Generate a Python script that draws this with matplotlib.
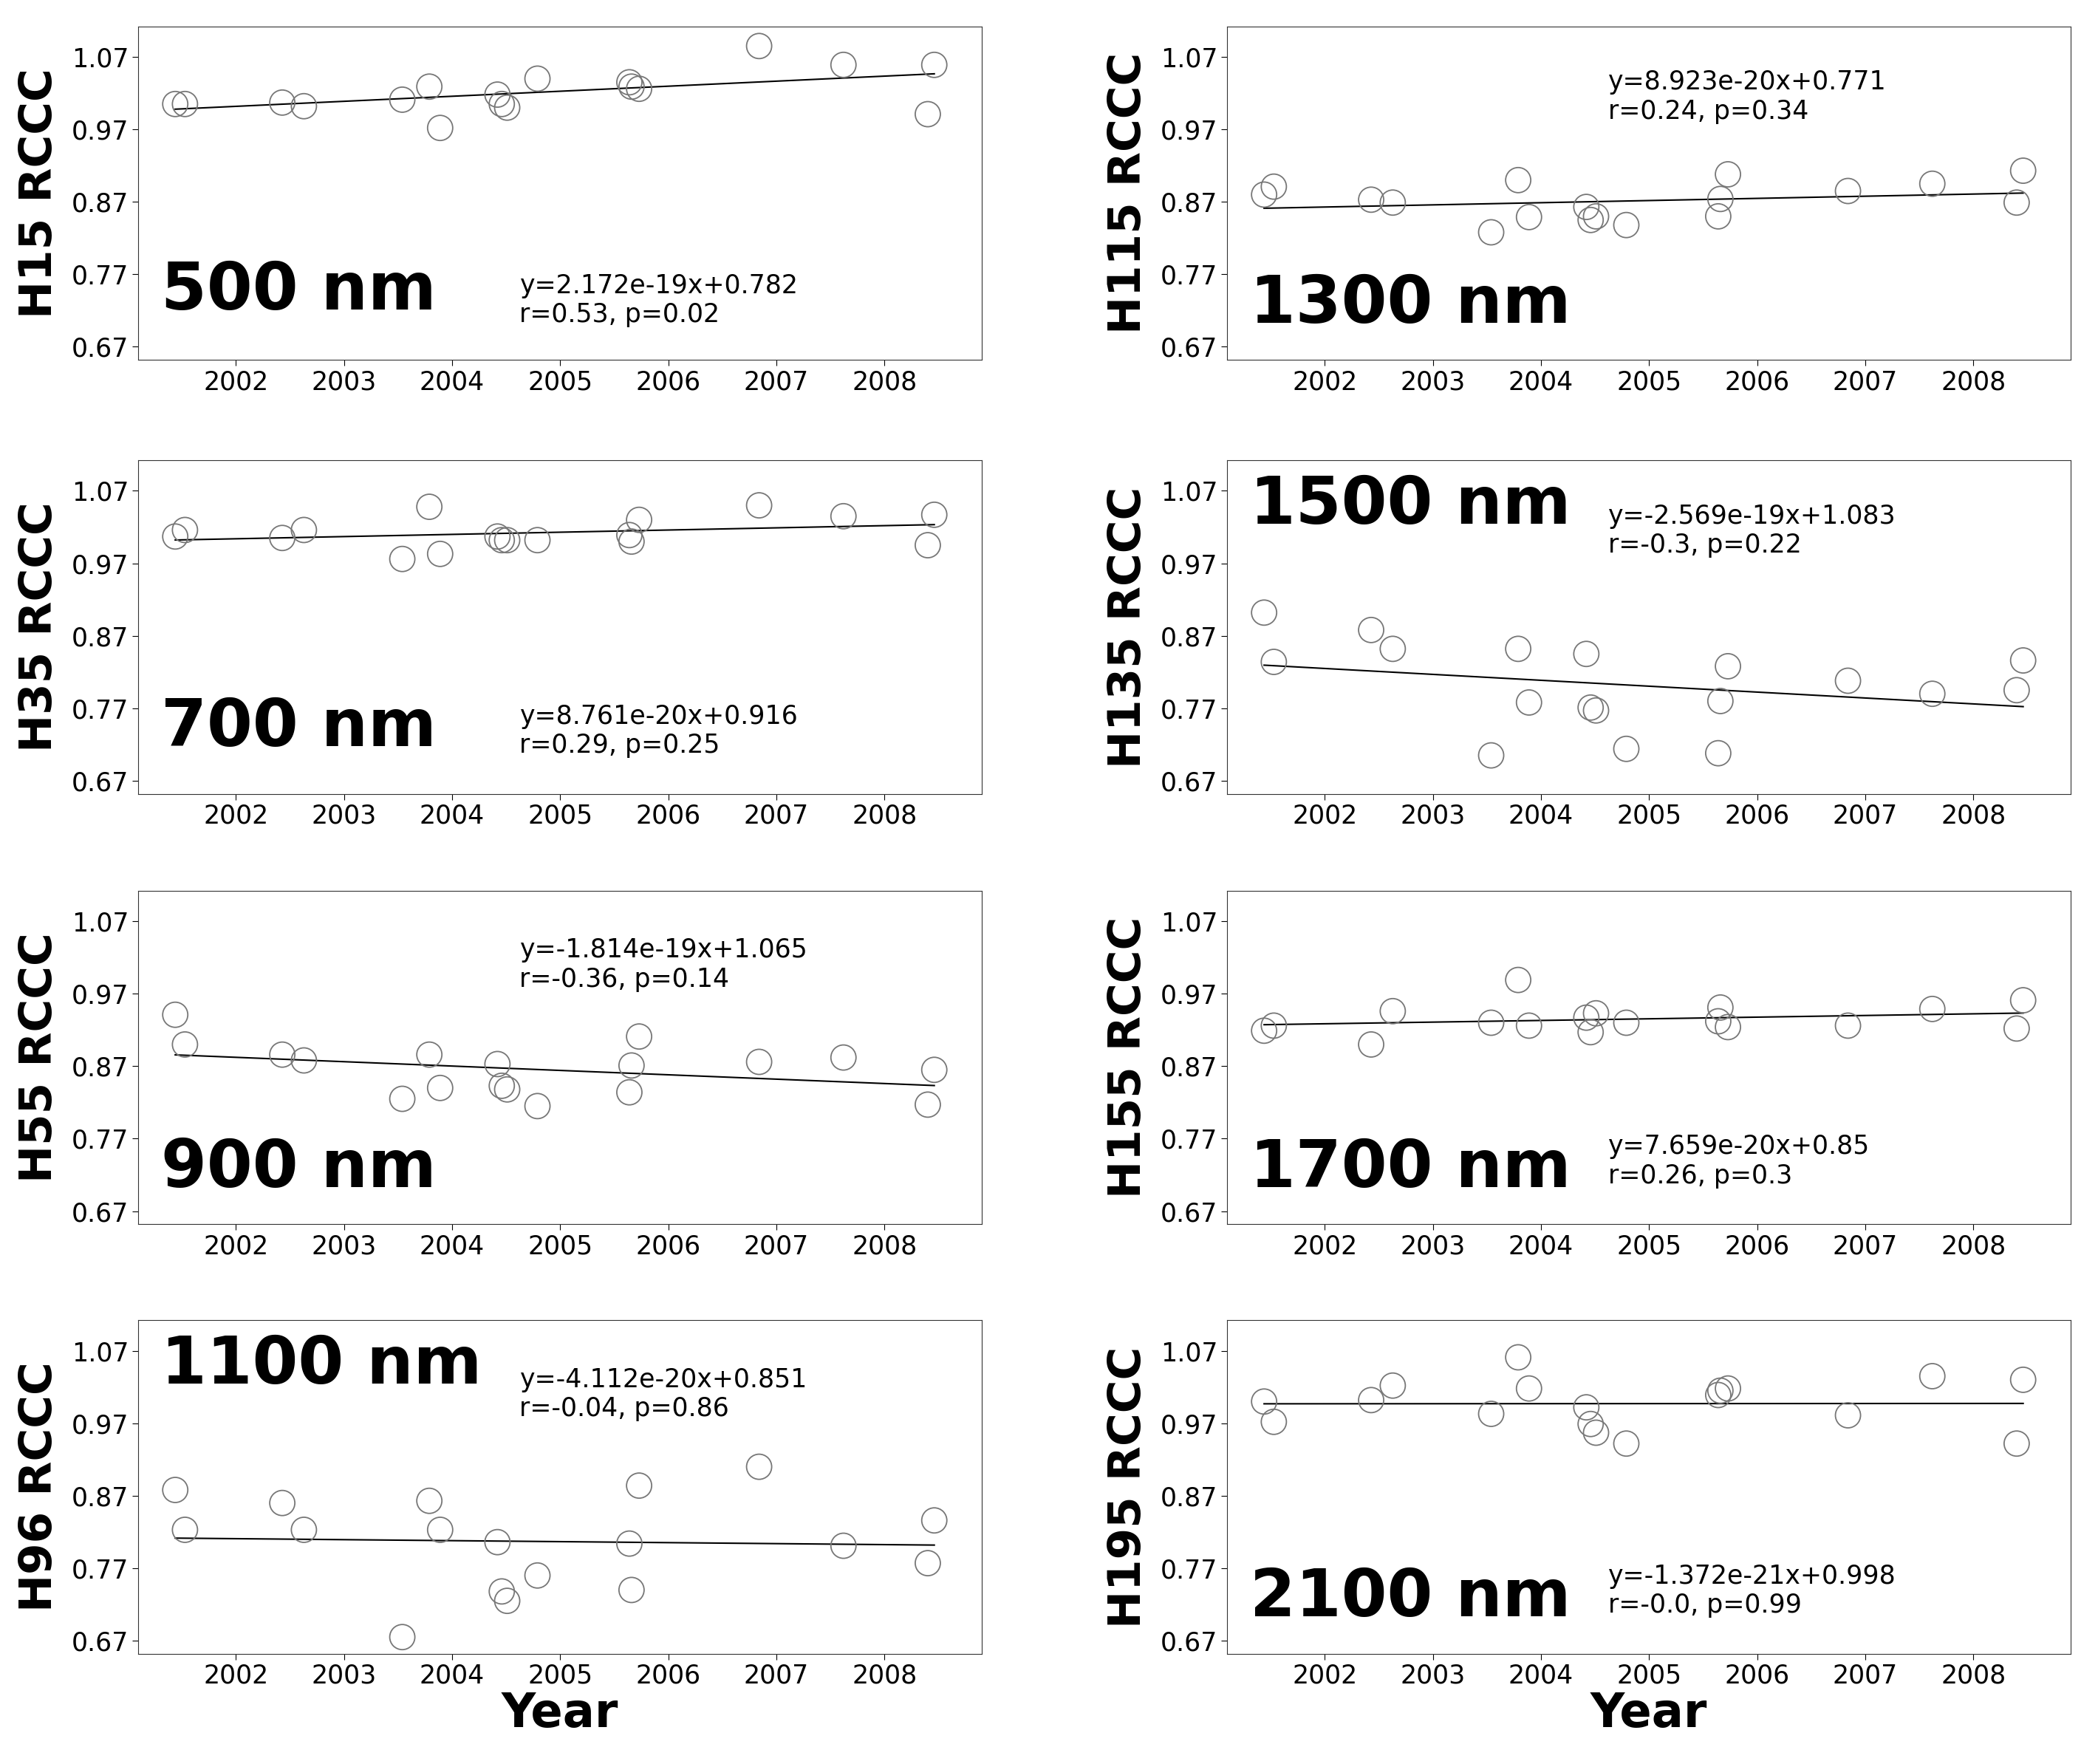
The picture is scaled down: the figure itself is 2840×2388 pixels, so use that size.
import numpy as np
import matplotlib
matplotlib.use("Agg")
import matplotlib.pyplot as plt

dates = [2001.44, 2001.53, 2002.43, 2002.63, 2003.54, 2003.79, 2003.89, 2004.42, 2004.46,
         2004.51, 2004.79, 2005.64, 2005.66, 2005.73, 2006.84, 2007.62, 2008.40, 2008.46]

v500 = [1.005, 1.005, 1.007, 1.002, 1.011, 1.029, 0.972, 1.018, 1.005, 1.0, 1.04, 1.035, 1.029, 1.026, 1.085, 1.059, 0.991, 1.059]
v700 = [1.007, 1.016, 1.005, 1.016, 0.976, 1.048, 0.983, 1.007, 1.002, 1.002, 1.002, 1.009, 1.0, 1.03, 1.05, 1.035, 0.995, 1.037]
v900 = [0.941, 0.90, 0.886, 0.878, 0.825, 0.886, 0.84, 0.873, 0.843, 0.838, 0.815, 0.834, 0.871, 0.911, 0.876, 0.882, 0.817, 0.865]
v1100 = [0.878, 0.823, 0.86, 0.823, 0.675, 0.863, 0.823, 0.806, 0.738, 0.725, 0.76, 0.804, 0.74, 0.884, 0.91, 0.801, 0.777, 0.836]
v1300 = [0.88, 0.891, 0.873, 0.869, 0.828, 0.9, 0.849, 0.863, 0.845, 0.85, 0.838, 0.85, 0.874, 0.908, 0.885, 0.895, 0.869, 0.913]
v1500 = [0.902, 0.834, 0.878, 0.852, 0.705, 0.852, 0.778, 0.845, 0.771, 0.767, 0.714, 0.708, 0.78, 0.828, 0.808, 0.79, 0.795, 0.836]
v1700 = [0.919, 0.926, 0.9, 0.946, 0.93, 0.989, 0.926, 0.937, 0.917, 0.943, 0.93, 0.932, 0.951, 0.924, 0.926, 0.949, 0.922, 0.961]
v2100 = [1.0, 0.972, 1.002, 1.022, 0.983, 1.061, 1.018, 0.992, 0.969, 0.957, 0.942, 1.009, 1.015, 1.018, 0.981, 1.035, 0.942, 1.03]

panels = [
    # (values, ylabel, title, eq, r, col, row, title_y, title_va, eq_y)
    (v500, "H15 RCCC", "500 nm", "y=2.172e-19x+0.782", "r=0.53, p=0.02", 0, 0, 0.11, "bottom", 0.26),
    (v700, "H35 RCCC", "700 nm", "y=8.761e-20x+0.916", "r=0.29, p=0.25", 0, 1, 0.10, "bottom", 0.27),
    (v900, "H55 RCCC", "900 nm", "y=-1.814e-19x+1.065", "r=-0.36, p=0.14", 0, 2, 0.07, "bottom", 0.86),
    (v1100, "H96 RCCC", "1100 nm", "y=-4.112e-20x+0.851", "r=-0.04, p=0.86", 0, 3, 0.96, "top", 0.86),
    (v1300, "H115 RCCC", "1300 nm", "y=8.923e-20x+0.771", "r=0.24, p=0.34", 1, 0, 0.07, "bottom", 0.87),
    (v1500, "H135 RCCC", "1500 nm", "y=-2.569e-19x+1.083", "r=-0.3, p=0.22", 1, 1, 0.96, "top", 0.87),
    (v1700, "H155 RCCC", "1700 nm", "y=7.659e-20x+0.85", "r=0.26, p=0.3", 1, 2, 0.07, "bottom", 0.27),
    (v2100, "H195 RCCC", "2100 nm", "y=-1.372e-21x+0.998", "r=-0.0, p=0.99", 1, 3, 0.07, "bottom", 0.27),
]

fig = plt.figure(figsize=(28.4, 23.88), dpi=100)
lefts = [0.066, 0.585]
tops = [0.985, 0.739, 0.495, 0.2515]
w, h = 0.402, 0.189
yticks = [0.67, 0.77, 0.87, 0.97, 1.07]
years = [2002, 2003, 2004, 2005, 2006, 2007, 2008]

for vals, ylab, title, eq, rtxt, col, row, ty, tva, ey in panels:
    ax = fig.add_axes([lefts[col], tops[row] - h, w, h])
    x = np.array(dates); y = np.array(vals)
    ax.scatter(x, y, s=600, facecolors="none", edgecolors="#777777", linewidths=1.3, zorder=3)
    k, b = np.polyfit(x, y, 1)
    ax.plot([x[0], x[-1]], [k * x[0] + b, k * x[-1] + b], color="black", lw=1.5)
    ax.set_xlim(2001.1, 2008.9)
    ax.set_ylim(0.652, 1.112)
    ax.set_yticks(yticks)
    ax.set_yticklabels([f"{t:.2f}" for t in yticks])
    ax.set_xticks(years)
    ax.tick_params(labelsize=25, length=6)
    ax.set_ylabel(ylab, fontsize=44, fontweight="bold", labelpad=10)
    ax.text(0.027, ty, title, transform=ax.transAxes, fontsize=64, fontweight="bold", va=tva, ha="left")
    ax.text(0.452, ey, eq + "\n" + rtxt, transform=ax.transAxes, fontsize=25, va="top", ha="left", linespacing=1.2)
    for s in ax.spines.values():
        s.set_color("#333333")
    if row == 3:
        ax.set_xlabel("Year", fontsize=46, fontweight="bold", labelpad=2)

fig.savefig("out.png", dpi=100)
